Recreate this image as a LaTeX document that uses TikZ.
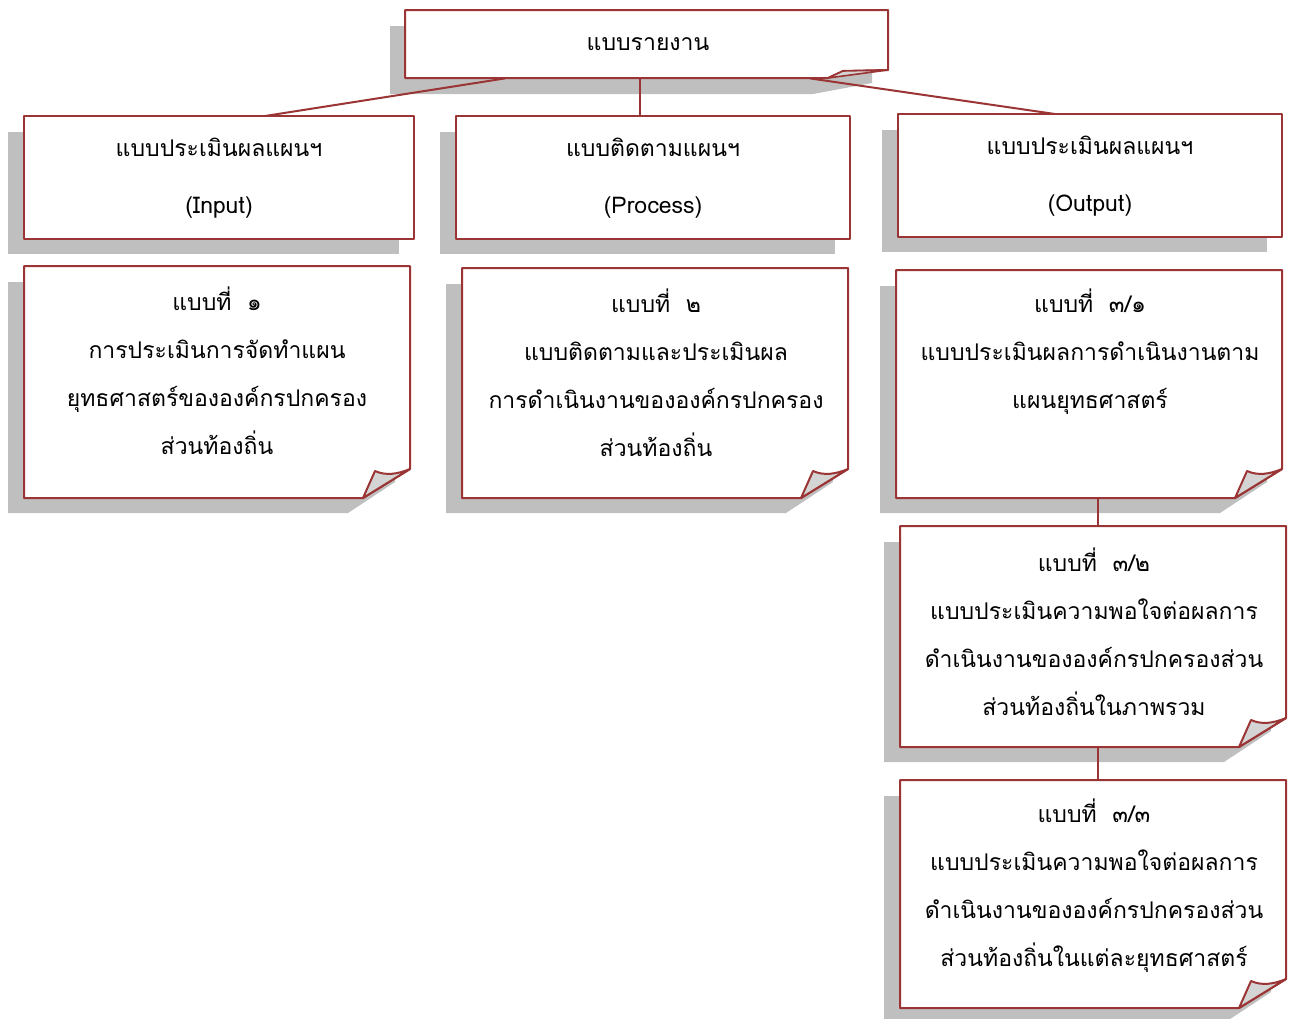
\documentclass[tikz,border=0pt]{standalone}
\usepackage{fontspec}
\setmainfont[Script=Thai]{Loma}
\usetikzlibrary{calc}
\definecolor{bred}{RGB}{155,52,52}
\definecolor{shd}{RGB}{191,191,191}
\definecolor{foldc}{RGB}{212,212,212}
\tikzset{
  edgeline/.style={draw=bred, line width=2pt, fill=white, line join=round},
  foldline/.style={draw=bred, line width=2pt, fill=foldc, line join=round},
  conn/.style={draw=bred, line width=2pt},
  frame/.style={inner sep=0pt, anchor=north west},
  txt/.style={align=center, font=\fontsize{23}{48}\selectfont, inner sep=0pt},
  txthead/.style={align=center, font=\fontsize{23}{57}\selectfont, inner sep=0pt},
}
\newcommand\curlshadow[4]{\fill[shd] (#1-16,#2+16) -- (#3-15,#2+16) -- (#3-15,#4-16) -- (#3-62,#4+15) -- (#1-16,#4+15) -- cycle;}
\newcommand\plainshadow[4]{\fill[shd] (#1-16,#2+16) rectangle (#3-15,#4+15);}
\newcommand\curlbox[5]{%
  \path[edgeline] (#2,#3) -- (#4,#3) -- (#4,#5-29) -- (#4-47,#5) -- (#2,#5) -- cycle;
  \path[foldline] (#4-47,#5) -- (#4-35,#5-27) .. controls (#4-24,#5-22) and (#4-12,#5-24) .. (#4,#5-29) -- cycle;
  \node[frame, minimum width={#4-#2}, minimum height={#5-#3}] (#1) at (#2,#3) {};
}
\newcommand\plainbox[5]{%
  \path[edgeline] (#2,#3) rectangle (#4,#5);
  \node[frame, minimum width={#4-#2}, minimum height={#5-#3}] (#1) at (#2,#3) {};
}
\begin{document}
\begin{tikzpicture}[x=1pt,y=-1pt]
\useasboundingbox (0,0) rectangle (1292,1018);
% shadows
\fill[shd] (390,26) -- (872,26) -- (872,83) -- (813,94) -- (390,94) -- cycle;
\plainshadow{24}{116}{414}{239}
\plainshadow{456}{116}{850}{239}
\plainshadow{898}{114}{1282}{237}
\curlshadow{24}{266}{410}{498}
\curlshadow{462}{268}{848}{498}
\curlshadow{896}{270}{1282}{498}
\curlshadow{900}{526}{1286}{747}
\curlshadow{900}{780}{1286}{1008}
% top box
\path[edgeline] (405,10) -- (888,10) -- (888,70) -- (843,71) -- (828,78) -- (405,78) -- cycle;
\path[foldline, line width=1.6pt] (828,78) -- (843,71) -- (888,70) -- cycle;
\node[frame, minimum width=483, minimum height=68] (top) at (405,10) {};
% boxes
\plainbox{inp}{24}{116}{414}{239}
\plainbox{proc}{456}{116}{850}{239}
\plainbox{outp}{898}{114}{1282}{237}
\curlbox{f1}{24}{266}{410}{498}
\curlbox{f2}{462}{268}{848}{498}
\curlbox{f31}{896}{270}{1282}{498}
\curlbox{f32}{900}{526}{1286}{747}
\curlbox{f33}{900}{780}{1286}{1008}
% connectors
\draw[conn] ($(top.south west)+(100,0)$) -- ($(inp.north west)+(241,0)$);
\draw[conn] ($(top.south west)+(235,0)$) -- ($(proc.north west)+(184,0)$);
\draw[conn] ($(top.south west)+(405,0)$) -- ($(outp.north west)+(157,0)$);
\draw[conn] ($(f31.south west)+(202,0)$) -- ($(f32.north west)+(198,0)$);
\draw[conn] ($(f32.south west)+(198,0)$) -- ($(f33.north west)+(198,0)$);
% texts
\node[txt] (ttop) at (648,44) {แบบรายงาน};
\node[txthead] (tinp) at (219,178) {แบบประเมินผลแผนฯ\\(Input)};
\node[txthead] (tproc) at (653,178) {แบบติดตามแผนฯ\\(Process)};
\node[txthead] (toutp) at (1090,176) {แบบประเมินผลแผนฯ\\(Output)};
\node[txt] (tf1) at (217,371) {แบบที่\ \ ๑\\การประเมินการจัดทำแผน\\ยุทธศาสตร์ขององค์กรปกครอง\\ส่วนท้องถิ่น};
\node[txt] (tf2) at (656,373) {แบบที่\ \ ๒\\แบบติดตามและประเมินผล\\การดำเนินงานขององค์กรปกครอง\\ส่วนท้องถิ่น};
\node[txt] (tf31) at (1090,352) {แบบที่\ \ ๓/๑\\แบบประเมินผลการดำเนินงานตาม\\แผนยุทธศาสตร์};
\node[txt] (tf32) at (1094,632) {แบบที่\ \ ๓/๒\\แบบประเมินความพอใจต่อผลการ\\ดำเนินงานขององค์กรปกครองส่วน\\ส่วนท้องถิ่นในภาพรวม};
\node[txt] (tf33) at (1094,886) {แบบที่\ \ ๓/๓\\แบบประเมินความพอใจต่อผลการ\\ดำเนินงานขององค์กรปกครองส่วน\\ส่วนท้องถิ่นในแต่ละยุทธศาสตร์};
\end{tikzpicture}
\end{document}
